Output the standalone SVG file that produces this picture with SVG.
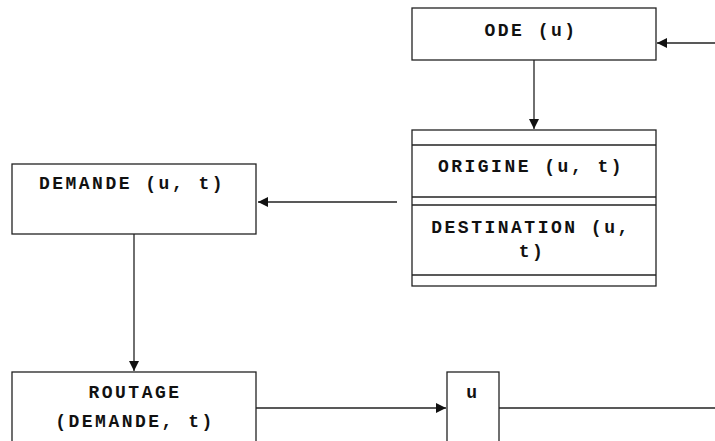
<svg xmlns="http://www.w3.org/2000/svg" width="715" height="441" viewBox="0 0 715 441">
  <style>
    .box { fill: #fff; stroke: #222; stroke-width: 1.3; }
    .sep { stroke: #222; stroke-width: 1.3; fill: none; }
    .lbl { font-family: "Liberation Mono", "DejaVu Sans Mono", monospace; font-weight: bold; font-size: 18px; letter-spacing: 2.5px; fill: #111; text-anchor: middle; }
    .con { stroke: #222; stroke-width: 1.3; fill: none; }
    .arr { marker-end: url(#head); }
  </style>
  <defs>
    <marker id="head" viewBox="0 0 10 10" refX="10" refY="5" markerWidth="10" markerHeight="10" markerUnits="userSpaceOnUse" orient="auto">
      <path d="M0,0 L10,5 L0,10 Z" fill="#111"/>
    </marker>
  </defs>

  <g id="connectors">
    <line class="con arr" x1="715" y1="43" x2="657" y2="43"/>
    <line class="con arr" x1="534" y1="60" x2="534" y2="129"/>
    <line class="con arr" x1="397" y1="202" x2="258" y2="202"/>
    <line class="con arr" x1="134" y1="234" x2="134" y2="371"/>
    <line class="con arr" x1="256" y1="408" x2="446" y2="408"/>
    <line class="con" x1="499" y1="408" x2="715" y2="408"/>
  </g>

  <g id="ode">
    <rect class="box" x="412" y="8" width="244" height="52"/>
    <text class="lbl" x="531" y="36">ODE (u)</text>
  </g>

  <g id="origine-destination">
    <rect class="box" x="412" y="130" width="244" height="156"/>
    <line class="sep" x1="412" y1="145" x2="656" y2="145"/>
    <line class="sep" x1="412" y1="197" x2="656" y2="197"/>
    <line class="sep" x1="412" y1="205" x2="656" y2="205"/>
    <line class="sep" x1="412" y1="275" x2="656" y2="275"/>
    <text class="lbl" x="531" y="172">ORIGINE (u, t)</text>
    <text class="lbl" x="531" y="233">DESTINATION (u,</text>
    <text class="lbl" x="532" y="257">t)</text>
  </g>

  <g id="demande">
    <rect class="box" x="12" y="164" width="244" height="70"/>
    <text class="lbl" x="132" y="189">DEMANDE (u, t)</text>
  </g>

  <g id="routage">
    <rect class="box" x="12" y="372" width="244" height="80"/>
    <text class="lbl" x="135" y="398">ROUTAGE</text>
    <text class="lbl" x="135" y="427">(DEMANDE, t)</text>
  </g>

  <g id="u">
    <rect class="box" x="447" y="372" width="52" height="80"/>
    <text class="lbl" x="473" y="398">u</text>
  </g>
</svg>
